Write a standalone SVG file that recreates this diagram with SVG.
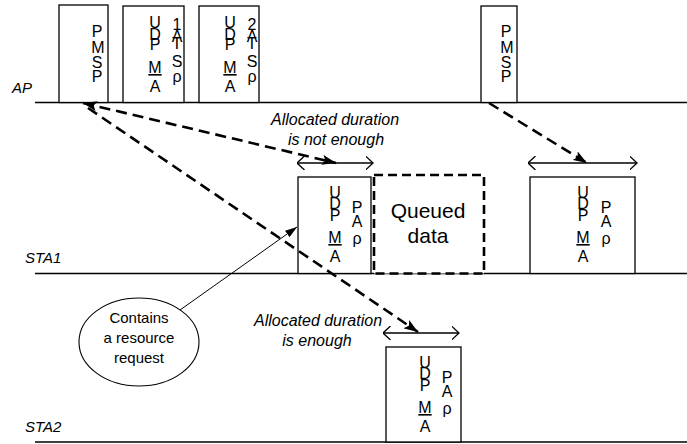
<svg xmlns="http://www.w3.org/2000/svg" width="687" height="444" viewBox="0 0 687 444">
<style>
text{font-family:"Liberation Sans",Arial,sans-serif;fill:#000}
.lt{font-size:16px;text-anchor:middle}
.lbl{font-size:15px;font-style:italic}
.note{font-size:16px;font-style:italic;text-anchor:middle}
.box{fill:#fff;stroke:#000;stroke-width:1.3}
.tl{stroke:#000;stroke-width:1.3;fill:none}
.dash{stroke:#000;stroke-width:2.6;stroke-dasharray:11 6;fill:none}
.dbl{stroke:#000;stroke-width:1.3;fill:none;marker-start:url(#open);marker-end:url(#open)}
.u{text-decoration:underline}
</style>
<defs>
<marker id="solid" markerUnits="userSpaceOnUse" viewBox="0 0 14 10" refX="14" refY="5" markerWidth="14" markerHeight="10" orient="auto-start-reverse">
<path d="M0,0 L14,5 L0,10 L3,5 Z" fill="#000"/>
</marker>
<marker id="thin" markerUnits="userSpaceOnUse" viewBox="0 0 12 8" refX="12" refY="4" markerWidth="12" markerHeight="8" orient="auto">
<path d="M0,0 L12,4 L0,8 Z" fill="#000"/>
</marker>
<marker id="open" markerUnits="userSpaceOnUse" viewBox="0 0 8 14" refX="7.5" refY="7" markerWidth="8" markerHeight="14" orient="auto-start-reverse">
<path d="M0,0 L7.5,7 L0,14" fill="none" stroke="#000" stroke-width="1.3"/>
</marker>
</defs>

<g id="timelines">
<line class="tl" x1="35" y1="102.5" x2="687" y2="102.5"/>
<line class="tl" x1="35" y1="273.5" x2="687" y2="273.5"/>
<line class="tl" x1="35" y1="442" x2="687" y2="442"/>
<text class="lbl" x="12" y="93">AP</text>
<text class="lbl" x="25" y="263">STA1</text>
<text class="lbl" x="25" y="432">STA2</text>
</g>

<g id="ap-psmp1">
<rect class="box" x="59" y="5" width="49" height="97.5"/>
<text class="lt" x="97" y="37">P</text>
<text class="lt" x="98" y="53">M</text>
<text class="lt" x="97" y="68">S</text>
<text class="lt" x="97" y="82">P</text>
</g>

<g id="ap-udpma1">
<rect class="box" x="123" y="6" width="61" height="96.5"/>
<text class="lt" x="155" y="28">U</text>
<text class="lt" x="155" y="40">D</text>
<text class="lt" x="155" y="50">P</text>
<text class="lt u" x="155" y="73">M</text>
<text class="lt" x="155" y="92">A</text>
<text class="lt" x="177" y="30">1</text>
<text class="lt" x="177" y="42">A</text>
<text class="lt" x="177" y="49">T</text>
<text class="lt" x="177" y="67">S</text>
<text class="lt" x="177" y="82">ρ</text>
</g>

<g id="ap-udpma2">
<rect class="box" x="199" y="6" width="60" height="96.5"/>
<text class="lt" x="230" y="28">U</text>
<text class="lt" x="230" y="40">D</text>
<text class="lt" x="230" y="50">P</text>
<text class="lt u" x="230" y="73">M</text>
<text class="lt" x="230" y="92">A</text>
<text class="lt" x="252" y="30">2</text>
<text class="lt" x="252" y="42">A</text>
<text class="lt" x="252" y="49">T</text>
<text class="lt" x="252" y="67">S</text>
<text class="lt" x="252" y="82">ρ</text>
</g>

<g id="ap-psmp2">
<rect class="box" x="481" y="6" width="36" height="96.5"/>
<text class="lt" x="506" y="37">P</text>
<text class="lt" x="507" y="53">M</text>
<text class="lt" x="506" y="68">S</text>
<text class="lt" x="506" y="82">P</text>
</g>

<g id="sta1-udpma1">
<rect class="box" x="298" y="177" width="73" height="96.5"/>
<text class="lt" x="335" y="198">U</text>
<text class="lt" x="335" y="209">D</text>
<text class="lt" x="335" y="221">P</text>
<text class="lt u" x="335" y="243">M</text>
<text class="lt" x="335" y="262">A</text>
<text class="lt" x="357" y="213">P</text>
<text class="lt" x="357" y="227">A</text>
<text class="lt" x="357" y="244">ρ</text>
</g>

<g id="sta1-queued">
<rect x="374" y="175" width="110" height="98.5" fill="#fff" stroke="#000" stroke-width="2.6" stroke-dasharray="9 5"/>
<text x="428" y="218" font-size="21" text-anchor="middle">Queued</text>
<text x="428" y="243" font-size="21" text-anchor="middle">data</text>
</g>

<g id="sta1-udpma2">
<rect class="box" x="530" y="177" width="105" height="96.5"/>
<text class="lt" x="583" y="198">U</text>
<text class="lt" x="583" y="209">D</text>
<text class="lt" x="583" y="221">P</text>
<text class="lt u" x="583" y="243">M</text>
<text class="lt" x="583" y="262">A</text>
<text class="lt" x="606" y="213">P</text>
<text class="lt" x="606" y="227">A</text>
<text class="lt" x="606" y="244">ρ</text>
</g>

<g id="sta2-udpma">
<rect class="box" x="386" y="347" width="75" height="95"/>
<text class="lt" x="425" y="368">U</text>
<text class="lt" x="425" y="379">D</text>
<text class="lt" x="425" y="391">P</text>
<text class="lt u" x="425" y="413">M</text>
<text class="lt" x="425" y="432">A</text>
<text class="lt" x="447" y="383">P</text>
<text class="lt" x="447" y="397">A</text>
<text class="lt" x="447" y="414">ρ</text>
</g>

<g id="note-request">
<ellipse cx="139" cy="342" rx="60" ry="44" fill="#fff" stroke="#000" stroke-width="1.1"/>
<text x="139" y="323" font-size="15" text-anchor="middle">Contains</text>
<text x="139" y="343" font-size="15" text-anchor="middle">a resource</text>
<text x="139" y="363" font-size="15" text-anchor="middle">request</text>
</g>

<g id="labels">
<text class="note" x="335" y="125">Allocated duration</text>
<text class="note" x="336" y="145">is not enough</text>
<text class="note" x="318" y="326">Allocated duration</text>
<text class="note" x="317" y="346">is enough</text>
</g>

<g id="connectors">
<line class="dash" x1="83" y1="103" x2="336" y2="163" marker-start="url(#solid)" marker-end="url(#solid)"/>
<line class="dash" x1="88" y1="108" x2="418" y2="332" marker-end="url(#solid)"/>
<line class="dash" x1="489" y1="103" x2="587" y2="163" marker-end="url(#solid)"/>
<line class="dbl" x1="297" y1="163" x2="373" y2="163"/>
<line class="dbl" x1="528" y1="163" x2="637" y2="163"/>
<line class="dbl" x1="383" y1="333" x2="459" y2="333"/>
<line x1="180" y1="310" x2="297" y2="227" stroke="#000" stroke-width="1" marker-end="url(#thin)"/>
</g>
</svg>
